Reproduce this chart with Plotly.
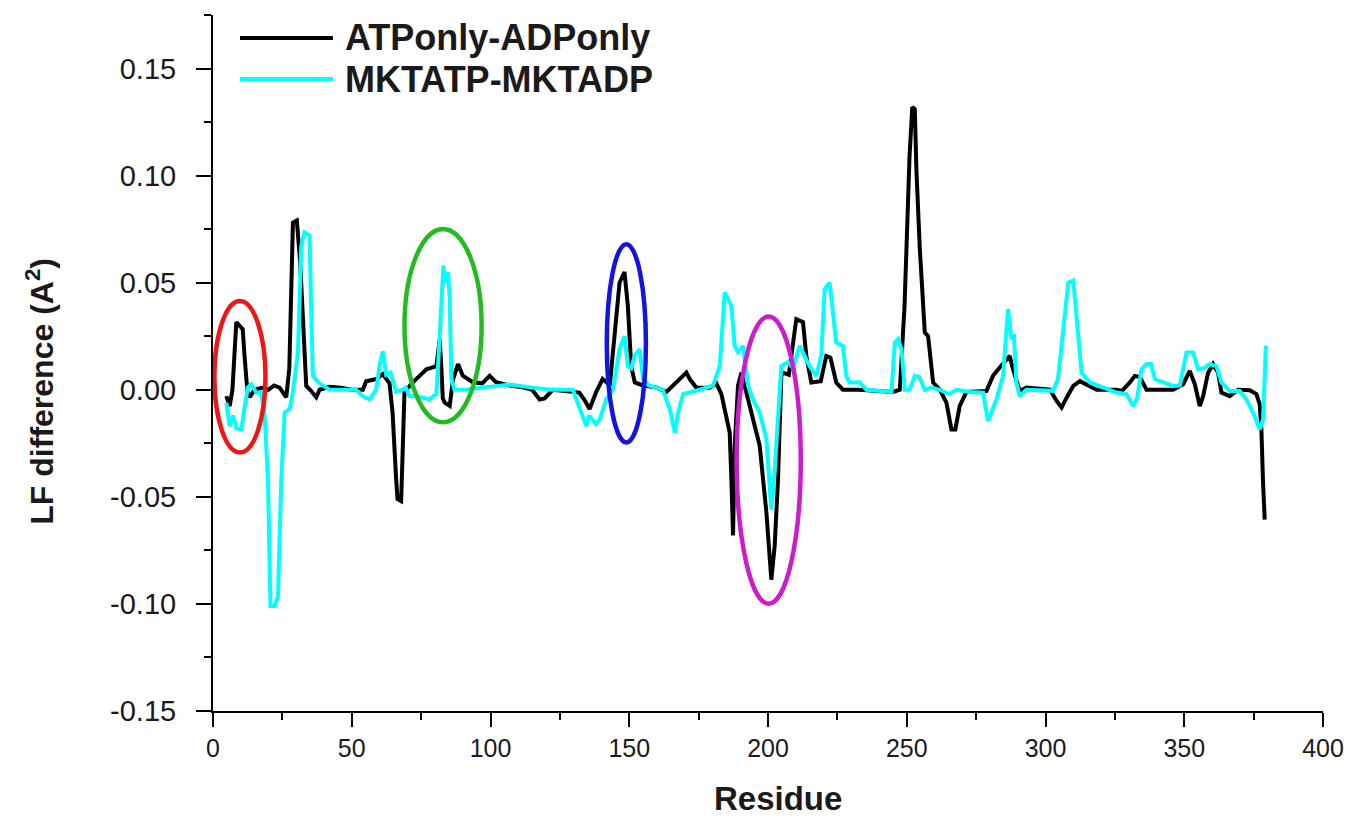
import plotly.graph_objects as go

# ---------------- data ----------------
atp_adp_only_x = [4.8, 6.0, 7.0, 8.4, 9.5, 10.7, 11.3, 12.4, 13.2, 15, 18, 20, 22, 24, 26.4, 27.5,
                  28.8, 30.2, 31.4, 33.6, 35, 37.2, 38.4, 42, 46, 50, 54, 55.2, 58.8, 61.2, 63.6,
                  64.7, 66.0, 66.5, 67.8, 68.3, 69.0, 72.0, 74, 76.9, 80.5, 81.3, 81.7, 82.3, 82.8,
                  83.5, 85.3, 86.5, 88.3, 90.0, 93.6, 97, 99.7, 102, 107, 112, 115, 117.7, 119.5,
                  122.4, 128, 132, 134, 135.7, 138.1, 140.4, 143, 145.3, 146.5, 148.3, 149.5, 150.7,
                  152, 155, 159.8, 163.4, 165.8, 168.2, 170.6, 171.8, 174.2, 179, 181.4, 183.2, 185,
                  186.2, 186.8, 187.4, 188, 189.2, 190.4, 192.2, 194.6, 197, 199.4, 200.5, 201.2,
                  202.4, 203.6, 204.8, 205.4, 207.5, 210.2, 212.6, 213.8, 215.6, 219, 221, 222.5,
                  224.6, 227, 233, 240.3, 245, 247.5, 249.2, 251, 252, 252.9, 253.5, 254.7, 256.5,
                  257.7, 259.5, 261.9, 264.3, 266.1, 267.5, 269.1, 271.5, 278.7, 281.1, 283.5, 286,
                  287.1, 288.3, 290.7, 293.1, 301.6, 304, 305.8, 307.6, 310, 312.4, 314.8, 318.4,
                  325.6, 327.5, 330.4, 332.2, 334, 336.4, 346, 349.6, 352, 353.8, 355.6, 356.8,
                  358.6, 360.4, 362.2, 363.4, 366.4, 369.4, 373.6, 376, 377.2, 377.8, 378.4, 379]
atp_adp_only_y = [-0.003, -0.0076, 0.0, 0.0316, 0.030, 0.0283, 0.017, -0.001, -0.0035, 0.0, 0.001,
                  0.0, 0.002, 0.001, -0.0035, 0.010, 0.078, 0.079, 0.060, 0.0018, 0.0, -0.0035, 0.0,
                  0.0014, 0.001, 0.0, 0.0, 0.004, 0.005, 0.0073, 0.003, -0.0105, -0.042, -0.051,
                  -0.052, -0.035, -0.001, 0.0035, 0.006, 0.0096, 0.011, 0.020, 0.0236, 0.010, -0.004,
                  -0.006, -0.0075, 0.0049, 0.012, 0.0066, 0.0035, 0.003, 0.0065, 0.0035, 0.002, 0.001,
                  0.0, -0.0045, -0.004, 0.0, -0.0005, -0.0013, -0.005, -0.009, -0.001, 0.005, 0.0021,
                  0.033, 0.050, 0.055, 0.039, 0.011, 0.0034, 0.002, 0.001, -0.001, 0.002, 0.005,
                  0.008, 0.005, 0.001, 0.001, 0.003, -0.002, -0.0138, -0.020, -0.042, -0.068, -0.026,
                  0.002, 0.008, -0.001, -0.0138, -0.026, -0.057, -0.075, -0.0887, -0.073, -0.042,
                  0.0065, 0.008, 0.007, 0.033, 0.0316, 0.016, 0.0034, 0.004, 0.0158, 0.015, 0.0034,
                  0.0, 0.0, -0.0008, -0.001, 0.0, 0.039, 0.109, 0.132, 0.131, 0.102, 0.066, 0.0268,
                  0.025, 0.0034, 0.0, -0.006, -0.0185, -0.0185, -0.0075, -0.001, -0.0006, 0.0065,
                  0.0104, 0.0143, 0.0158, 0.0096, -0.0006, 0.001, 0.0, -0.0052, -0.0083, -0.0037,
                  0.0018, 0.004, 0.0025, 0.0, 0.0, -0.0006, 0.0034, 0.0065, 0.006, 0.0, 0.0, 0.0026,
                  0.0088, 0.0026, -0.0076, -0.003, 0.008, 0.012, 0.008, -0.0013, -0.003, 0.0,
                  -0.0002, -0.002, -0.0068, -0.0185, -0.0434, -0.0606]

mkt_x = [4.8, 6.0, 7.2, 8.4, 10.2, 11.4, 12.5, 13.8, 15.6, 17.4, 18.6, 19.8, 20.7, 22.2, 23.4,
         24.6, 25.8, 27.6, 28.8, 30.6, 31.8, 33.0, 34.8, 35.4, 36.0, 38.4, 42, 48, 51.6, 54, 56.4,
         58.8, 60, 61.2, 62.4, 64, 66, 68.3, 69.5, 70.8, 73.2, 78, 80.5, 81.7, 83.0, 83.7, 84.7,
         85.3, 85.9, 87, 91.3, 97, 103, 107, 115, 122, 129.7, 132.7, 134.5, 135.5, 136.8, 138,
         139.3, 141.7, 144.1, 146.5, 148.3, 149.5, 150.7, 152, 153.7, 155, 157, 162.1, 164.6,
         166.4, 167.6, 169.4, 175.4, 180.2, 182.6, 184.4, 185.6, 186.8, 188, 189.2, 191, 192.8,
         194.6, 197, 199.4, 200.6, 201.2, 202.4, 203.6, 204.8, 207.2, 209, 211.4, 213.2, 215,
         217.4, 219.2, 220.4, 222.2, 223.4, 224.6, 227, 228.2, 229.4, 233, 235.5, 240.3, 244.5,
         245.7, 246.9, 248.1, 249.3, 251, 252.9, 254.5, 256.5, 259, 261.9, 265.3, 268, 272.7,
         277.5, 279.3, 280.5, 282.3, 284.7, 286, 286.5, 287.7, 288.6, 289.5, 290.7, 293.1, 302.7,
         304.5, 307, 308.2, 310, 311.2, 313, 316, 320.8, 325.6, 329.2, 331.6, 333, 334.6, 336.4,
         338, 339.4, 342.4, 346, 348.4, 350.8, 353.2, 355, 357, 359.2, 361.6, 363.4, 366.4, 370,
         372.4, 374.8, 377.2, 378.4, 379.4]
mkt_y = [-0.006, -0.017, -0.012, -0.018, -0.0185, -0.008, 0.001, 0.0025, -0.0013, -0.0013, -0.012,
         -0.042, -0.101, -0.101, -0.0965, -0.042, -0.0107, -0.009, -0.001, 0.0174, 0.067, 0.0735,
         0.072, 0.036, 0.0065, 0.003, 0.0, 0.0, 0.0, -0.003, -0.0045, 0.0, 0.011, 0.018, 0.007,
         0.008, -0.001, 0.0, 0.001, -0.0029, -0.003, -0.0045, -0.002, 0.025, 0.058, 0.050, 0.055,
         0.0424, 0.005, 0.0, 0.0, 0.001, 0.002, 0.0025, 0.001, 0.0, 0.0, -0.0107, -0.017, -0.012,
         -0.014, -0.016, -0.014, -0.0045, 0.0, 0.019, 0.025, 0.011, 0.010, 0.016, 0.019, 0.005,
         0.002, 0.0, -0.009, -0.020, -0.0107, -0.002, 0.0, 0.002, 0.011, 0.0455, 0.0425, 0.039,
         0.0205, 0.0176, 0.0205, 0.002, -0.0045, -0.0107, -0.023, -0.042, -0.056, -0.038, -0.013,
         0.011, 0.013, 0.010, 0.0205, 0.016, 0.011, 0.0065, 0.016, 0.047, 0.050, 0.036, 0.022,
         0.0205, 0.0065, 0.0034, 0.0035, 0.0, -0.0005, -0.001, 0.022, 0.0236, 0.019, 0.0, 0.0,
         0.0065, 0.006, 0.0, 0.001, 0.0, -0.002, 0.0, -0.001, -0.0013, -0.0146, -0.011, -0.0045,
         0.0065, 0.028, 0.0377, 0.0236, 0.026, 0.0034, -0.003, 0.0, -0.0005, 0.005, 0.033, 0.050,
         0.051, 0.0346, 0.008, 0.0034, 0.001, -0.0013, -0.002, -0.0076, -0.004, 0.0096, 0.012,
         0.012, 0.005, 0.0034, 0.0018, 0.002, 0.0174, 0.0174, 0.0096, 0.010, 0.012, 0.011,
         0.0034, -0.0006, -0.0006, -0.0045, -0.0107, -0.0185, -0.0138, 0.0205]

series_names = ["ATPonly-ADPonly", "MKTATP-MKTADP"]

x_tick_vals = [0, 50, 100, 150, 200, 250, 300, 350, 400]
x_tick_text = ["0", "50", "100", "150", "200", "250", "300", "350", "400"]
x_minor_vals = [25, 75, 125, 175, 225, 275, 325, 375]
y_tick_vals = [-0.15, -0.10, -0.05, 0.00, 0.05, 0.10, 0.15]
y_tick_text = ["-0.15", "-0.10", "-0.05", "0.00", "0.05", "0.10", "0.15"]
y_minor_vals = [-0.125, -0.075, -0.025, 0.025, 0.075, 0.125, 0.175]

x_title = "Residue"
y_title = "LF difference (A<sup>2</sup>)"

# highlighted regions (residue range, value range)
ellipse_x0 = [0.5, 69.0, 141.9, 188.7]
ellipse_x1 = [18.9, 96.8, 156.0, 211.8]
ellipse_y0 = [-0.0293, -0.0152, -0.0246, -0.0999]
ellipse_y1 = [0.0414, 0.0751, 0.0679, 0.0342]

# ---------------- style ----------------
BLACK = "#000000"
CYAN = "#00FFFF"
ellipse_colors = ["#EE1515", "#22BB22", "#1414E0", "#CC1CCC"]
FONT = "Liberation Sans, Arial, sans-serif"
TXT = "#1A1A1A"

fig = go.Figure()
fig.add_trace(go.Scatter(x=atp_adp_only_x, y=atp_adp_only_y, mode="lines", name=series_names[0],
                         line=dict(color=BLACK, width=4), showlegend=False))
fig.add_trace(go.Scatter(x=mkt_x, y=mkt_y, mode="lines", name=series_names[1],
                         line=dict(color=CYAN, width=4), showlegend=False))

for x0, x1, y0, y1, c in zip(ellipse_x0, ellipse_x1, ellipse_y0, ellipse_y1, ellipse_colors):
    fig.add_shape(type="circle", xref="x", yref="y", x0=x0, x1=x1, y0=y0, y1=y1,
                  line=dict(color=c, width=4.5), fillcolor="rgba(0,0,0,0)")

# manual legend
legend_y = [0.967, 0.908]
for name, col, ly in zip(series_names, [BLACK, CYAN], legend_y):
    fig.add_shape(type="line", xref="paper", yref="paper", x0=0.0243, x1=0.108, y0=ly, y1=ly,
                  line=dict(color=col, width=4))
    fig.add_annotation(xref="paper", yref="paper", x=0.117, y=ly, text="<b>%s</b>" % name,
                       showarrow=False, xanchor="left", yanchor="middle",
                       font=dict(family=FONT, size=36, color=TXT))

# axis titles
fig.add_annotation(xref="paper", yref="paper", x=-0.156, y=0.46, text="<b>%s</b>" % y_title,
                   textangle=-90, showarrow=False, xanchor="center", yanchor="middle",
                   font=dict(family=FONT, size=32, color=TXT))
fig.add_annotation(xref="paper", yref="paper", x=0.509, y=-0.125, text="<b>%s</b>" % x_title,
                   showarrow=False, xanchor="center", yanchor="middle",
                   font=dict(family=FONT, size=33, color=TXT))

fig.update_layout(
    width=1352, height=818,
    margin=dict(l=205, r=37, t=7, b=115, autoexpand=False),
    paper_bgcolor="white", plot_bgcolor="white",
    font=dict(family=FONT, color=TXT),
)
fig.update_xaxes(
    range=[0, 400], showgrid=False, zeroline=False,
    showline=True, linecolor="black", linewidth=2,
    tickmode="array", tickvals=x_tick_vals, ticktext=x_tick_text,
    ticks="outside", ticklen=14, tickwidth=2, tickcolor="black",
    tickfont=dict(family=FONT, size=25, color=TXT),
    minor=dict(tickmode="array", tickvals=x_minor_vals, ticks="outside", ticklen=7,
               tickwidth=2, tickcolor="black"),
    automargin=False,
)
fig.update_yaxes(
    range=[-0.15, 0.175], showgrid=False, zeroline=False,
    showline=True, linecolor="black", linewidth=2,
    tickmode="array", tickvals=y_tick_vals, ticktext=y_tick_text,
    ticks="outside", ticklen=15, tickwidth=2, tickcolor="black",
    tickfont=dict(family=FONT, size=29, color=TXT),
    ticklabelstandoff=14,
    minor=dict(tickmode="array", tickvals=y_minor_vals, ticks="outside", ticklen=7,
               tickwidth=2, tickcolor="black"),
    automargin=False,
)

fig.write_html("out.html")
